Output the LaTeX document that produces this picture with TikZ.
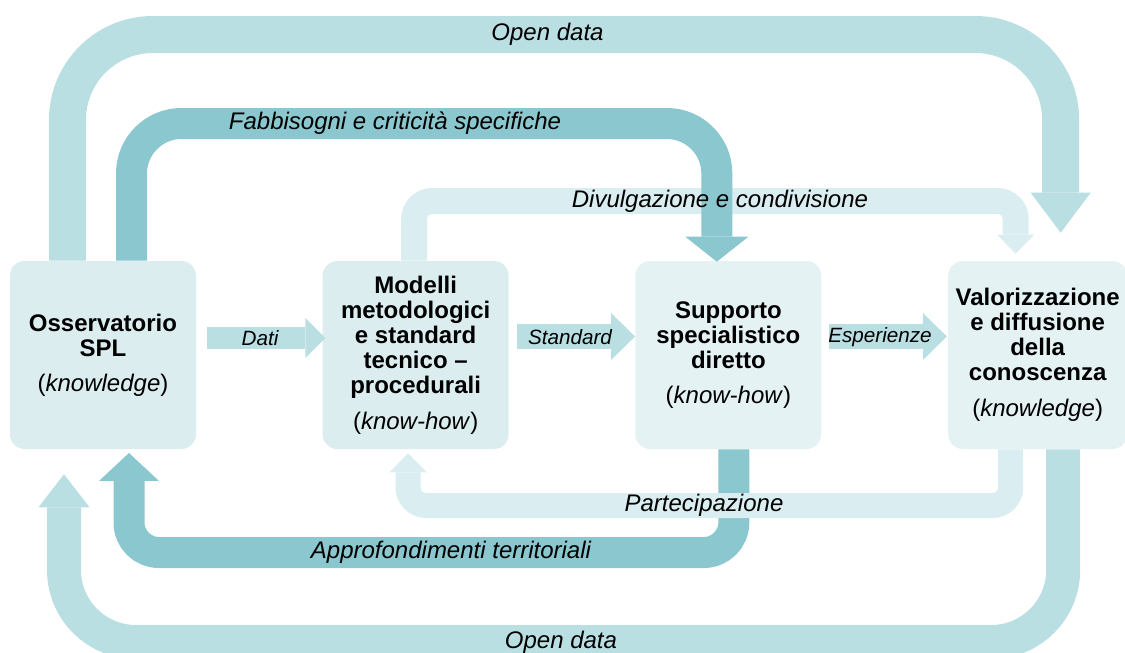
\documentclass[tikz,border=0pt]{standalone}
\usepackage{fontspec}
\setmainfont{Liberation Sans}
\usetikzlibrary{arrows.meta,calc,positioning}

\definecolor{bandmid}{HTML}{BADFE3}
\definecolor{banddark}{HTML}{8BC7CE}
\definecolor{bandlight}{HTML}{DAEDF0}
\definecolor{boxfill}{HTML}{DCEDF0}
\definecolor{boxfillb}{HTML}{E5F2F4}

\tikzset{
  box/.style={rounded corners=11pt, minimum width=139.5pt, minimum height=141pt,
    inner sep=0pt, align=center, font=\fontsize{18}{18.75}\selectfont\bfseries},
  lbl/.style={font=\fontsize{18}{20}\selectfont\itshape, inner sep=0pt},
  smalllbl/.style={font=\fontsize{15.5}{18}\selectfont\itshape, inner sep=0pt},
}

\begin{document}
\begin{tikzpicture}[x=0.75pt, y=-0.75pt, node distance=234.5pt]
  \useasboundingbox (0,0) rectangle (1125,653);

  \node (oss) [box, fill=boxfill] at (103,355) {Osservatorio\\SPL\\[7.5pt]{\mdseries(\textit{knowledge})}};
  \node (mod) [box, fill=boxfill, right of=oss] {Modelli\\metodologici\\e standard\\tecnico –\\procedurali\\[8pt]{\mdseries(\textit{know-how})}};
  \node (sup) [box, fill=boxfillb, right of=mod] {Supporto\\specialistico\\diretto\\[8pt]{\mdseries(\textit{know-how})}};
  \node (val) [box, fill=boxfillb, node distance=232pt, minimum width=134.25pt, right of=sup] {Valorizzazione\\e diffusione\\della\\conoscenza\\[8pt]{\mdseries(\textit{knowledge})}};

  \coordinate (odTop) at (547.5,34.5);
  \coordinate (fabbMid) at (395,123.5);
  \coordinate (divMid) at (720,201);
  \coordinate (parMid) at (704,505.5);
  \coordinate (appMid) at (451,552.5);
  \coordinate (odBot) at (561,642);

  % loops over the boxes
  \draw[bandmid, line width=27.75pt, rounded corners=64pt, -{Triangle[length=30pt,width=45pt,line width=0pt]}]
    ($(oss.north)+(-35.5,0)$) |- (odTop) -| ($(val.north)+(23,-28)$);
  \draw[bandlight, line width=19.5pt, rounded corners=13.5pt, -{Triangle[length=14.25pt,width=27.75pt,line width=0pt]}]
    ($(mod.north)+(-1.5,0)$) |- (divMid) -| ($(val.north)+(-22,-7)$);
  \draw[banddark, line width=23.25pt, rounded corners=37.5pt, -{Triangle[length=18.75pt,width=47.25pt,line width=0pt]}]
    ($(oss.north)+(28.5,0)$) |- (fabbMid) -| ($(sup.north)+(-11.5,1)$);

  % loops under the boxes
  \draw[banddark, line width=23.25pt, rounded corners=22.5pt, -{Triangle[length=21pt,width=45pt,line width=0pt]}]
    ($(sup.south)+(5.5,0)$) |- (appMid) -| ($(oss.south)+(26,3.7)$);
  \draw[bandlight, line width=18.75pt, rounded corners=13.5pt, -{Triangle[length=14.25pt,width=27.75pt,line width=0pt]}]
    ($(val.south)+(-27,0)$) |- (parMid) -| ($(mod.south)+(-7.5,4)$);
  \draw[bandmid, line width=25.5pt, rounded corners=54pt, -{Triangle[length=24.75pt,width=38.25pt,line width=0pt]}]
    ($(val.south)+(25.5,0)$) |- (odBot) -| ($(oss.south)+(-39,25)$);

  % straight arrows between the boxes
  \draw[bandmid, line width=16.5pt, -{Triangle[length=15pt,width=30pt,line width=0pt]}]
    ($(oss.east)+(11,-17)$) -- ($(mod.west)+(3,-17)$);
  \draw[bandmid, line width=18.75pt, -{Triangle[length=18pt,width=35.25pt,line width=0pt]}]
    ($(mod.east)+(8,-18.5)$) -- ($(sup.west)+(0,-18.5)$);
  \draw[bandmid, line width=18.75pt, -{Triangle[length=18pt,width=35.25pt,line width=0pt]}]
    ($(sup.east)+(7,-18.5)$) -- ($(val.west)+(-1,-18.5)$);

  \node (odTopLbl) [lbl] at (odTop) {Open data};
  \node (fabbLbl) [lbl] at (fabbMid) {Fabbisogni e criticità specifiche};
  \node (divLbl) [lbl] at (divMid) {Divulgazione e condivisione};
  \node (parLbl) [lbl] at (parMid) {Partecipazione};
  \node (appLbl) [lbl] at (appMid) {Approfondimenti territoriali};
  \node (odBotLbl) [lbl] at (odBot) {Open data};

  \node (datiLbl) [smalllbl] at (260,338) {Dati};
  \node (stdLbl) [smalllbl] at (570,337) {Standard};
  \node (espLbl) [smalllbl] at (880,337) {Esperienze};
\end{tikzpicture}
\end{document}
